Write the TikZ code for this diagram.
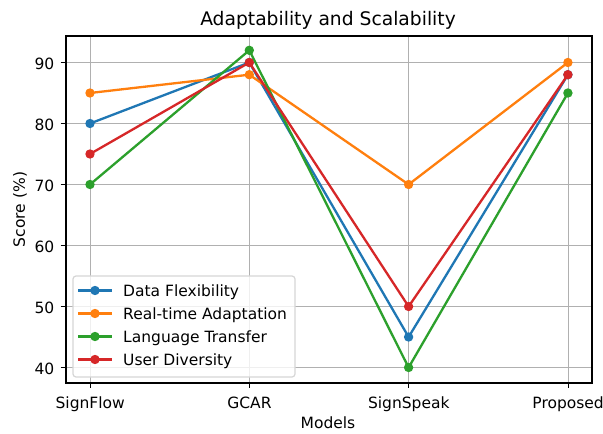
\documentclass[tikz,border=0pt]{standalone}
\usepackage{fontspec}
\setmainfont{DejaVu Sans}
\definecolor{cblue}{HTML}{1F77B4}
\definecolor{corange}{HTML}{FF7F0E}
\definecolor{cgreen}{HTML}{2CA02C}
\definecolor{cred}{HTML}{D62728}
\definecolor{cgrid}{HTML}{B0B0B0}
\definecolor{clegend}{HTML}{D6D6D6}
\tikzset{
  gridline/.style={draw=cgrid, line width=1.2bp},
  spine/.style={draw=black, line width=1.2bp},
  tickmark/.style={draw=black, line width=1.2bp},
  ticklabel/.style={font=\fontsize{15.5bp}{18bp}\selectfont, inner sep=0pt},
  serline/.style={line width=2.3bp, line join=round, line cap=round},
  dot/.style={circle, inner sep=0pt, minimum size=9.4bp},
  legendtext/.style={font=\fontsize{15.5bp}{18bp}\selectfont, inner sep=0pt, anchor=west},
  declare function={Y(\v)=62.5+(90-\v)*6.1;}
}
\newcommand\plotseries[6]{%
  \draw[serline, draw=#1] (90,{Y(#2)}) coordinate (#6a) -- (249.3,{Y(#3)}) coordinate (#6b)
     -- (408.6,{Y(#4)}) coordinate (#6c) -- (567.9,{Y(#5)}) coordinate (#6d);
  \foreach \p in {a,b,c,d} { \node[dot, fill=#1] at (#6\p) {}; }
}
\begin{document}
\begin{tikzpicture}[x=1bp,y=-1bp]
\useasboundingbox (0,0) rectangle (603,434);
\fill[white] (0,0) rectangle (603,434);
% grid and y ticks
\foreach \v in {40,50,60,70,80,90} {
  \draw[gridline] (66,{Y(\v)}) -- (592,{Y(\v)});
  \draw[tickmark] (60.6,{Y(\v)}) -- (66,{Y(\v)});
  \node[ticklabel, anchor=east] (yl\v) at (54.5,{Y(\v)+1.5}) {\v};
}
% grid and x ticks
\foreach \i/\lab in {0/SignFlow,1/GCAR,2/SignSpeak,3/Proposed} {
  \draw[gridline] ({90.2+159.3*\i},36) -- ({90.2+159.3*\i},383);
  \draw[tickmark] ({90.2+159.3*\i},383) -- ({90.2+159.3*\i},388.4);
  \node[ticklabel, anchor=base] (xl\i) at ({90.2+159.3*\i},408) {\lab};
}
% series
\plotseries{cblue}{80}{90}{45}{88}{df}
\plotseries{corange}{85}{88}{70}{90}{rt}
\plotseries{cgreen}{70}{92}{40}{85}{lt}
\plotseries{cred}{75}{90}{50}{88}{ud}
% spines
\draw[spine] (66,36) rectangle (592,383);
% labels
\node[font=\fontsize{18.7bp}{22bp}\selectfont, anchor=base, inner sep=0pt] (title) at (328,25.5) {Adaptability and Scalability};
\node[ticklabel, anchor=base] (xlabel) at (328,428) {Models};
\node[ticklabel, rotate=90] (ylabel) at (20,209.5) {Score (\%)};
% legend
\draw[draw=clegend, fill=white, fill opacity=0.8, line width=1.2bp, rounded corners=3bp] (73,276) rectangle (295,377);
\foreach \c/\t [count=\k from 0] in {cblue/Data Flexibility,corange/Real-time Adaptation,cgreen/Language Transfer,cred/User Diversity} {
  \draw[serline, draw=\c, line cap=butt] (78,{290.5+23*\k}) -- (112,{290.5+23*\k});
  \node[dot, fill=\c] (lm\k) at (95,{290.5+23*\k}) {};
  \node[legendtext] (lt\k) at (123,{291.8+23*\k}) {\t};
}
\end{tikzpicture}
\end{document}
